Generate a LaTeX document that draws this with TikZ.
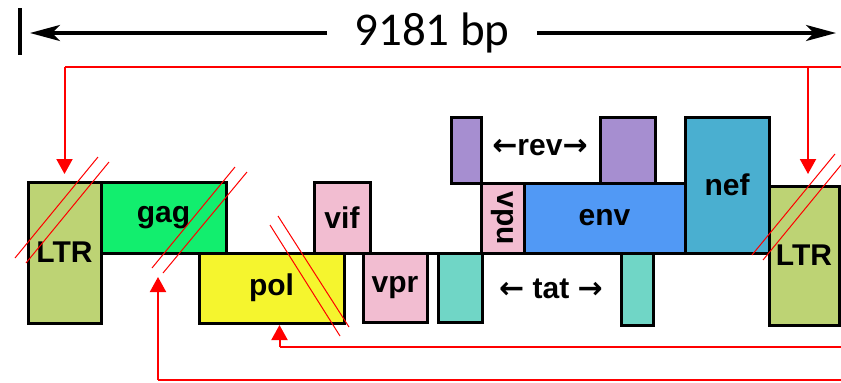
\documentclass[tikz,border=0pt]{standalone}
\usepackage{fontspec}
\setmainfont{Carlito}
\newfontfamily\genefont{Liberation Sans}
\newfontfamily\arrowfont{DejaVu Sans}
\usepackage{tikz}
\usetikzlibrary{calc,positioning,arrows.meta}
\definecolor{ltrGreen}{HTML}{BDD374}
\definecolor{gagGreen}{HTML}{12EE6E}
\definecolor{polYellow}{HTML}{F5F52E}
\definecolor{accPink}{HTML}{F2BDD1}
\definecolor{tatTeal}{HTML}{70D6C6}
\definecolor{revPurple}{HTML}{A68ED0}
\definecolor{envBlue}{HTML}{5199F5}
\definecolor{nefBlue}{HTML}{4AAFD0}
\definecolor{cutRed}{HTML}{FF0000}

\begin{document}
\begin{tikzpicture}[
    x=1pt, y=-1pt,
    gene/.style={rectangle, draw=black, line width=3pt, anchor=north west,
                 inner sep=0pt, outer sep=0pt,
                 font=\genefont\bfseries\fontsize{30}{30}\selectfont},
    lbl/.style={inner sep=0pt, font=\genefont\bfseries\fontsize{30}{30}\selectfont},
    dim/.style={line width=3.5pt, -{Stealth[length=30pt, width=16pt, inset=8pt]}},
    feedline/.style={cutRed, line width=1.2pt},
    feed/.style={cutRed, line width=2pt, -{Triangle[length=15pt, width=16pt]}},
    cut/.style={cutRed, line width=1pt},
]
    \useasboundingbox (0,0) rectangle (841,383);

    % genome length
    \node[font=\fontsize{47}{47}\selectfont, inner xsep=27pt, inner ysep=0pt] (len) at (432,33) {9181 bp};
    \coordinate (lenL) at (30,33);
    \coordinate (lenR) at (836,33);
    \draw[line width=4.5pt] (20,8) -- (20,55);
    \draw[dim] (len) -- (lenL);
    \draw[dim] (len) -- (lenR);

    % genes
    \node[gene, fill=ltrGreen, minimum width=73pt, minimum height=141pt] (ltrL) at (28,182) {LTR};
    \node[gene, fill=gagGreen, minimum width=125pt, minimum height=71pt, right=0pt of ltrL.north east, anchor=north west] (gag) {gag};
    \node[gene, fill=polYellow, minimum width=145pt, minimum height=70pt] (pol) at (199,253) {pol};
    \node[gene, fill=accPink, minimum width=56pt, minimum height=71pt] (vif) at (314,182) {vif};
    \node[gene, fill=accPink, minimum width=64pt, minimum height=69pt] (vpr) at (363,253) {vpr};
    \node[gene, fill=tatTeal, minimum width=44pt, minimum height=69pt] (tatA) at (438,253) {};
    \node[gene, fill=accPink, minimum width=43pt, minimum height=70pt] (vpu) at (481,183) {};
    \node[rotate=-90, lbl] (vpuLbl) at (vpu.center) {vpu};
    \node[gene, fill=envBlue, minimum width=161pt, minimum height=70pt, right=0pt of vpu.north east, anchor=north west] (env) {env};
    \node[gene, fill=revPurple, minimum width=30pt, minimum height=66pt] (revA) at (451,117) {};
    \node[gene, fill=revPurple, minimum width=55pt, minimum height=66pt] (revB) at (600,117) {};
    \node[gene, fill=nefBlue, minimum width=84pt, minimum height=136pt, right=0pt of env.south east, anchor=south west] (nef) {nef};
    \node[gene, fill=tatTeal, minimum width=32pt, minimum height=72pt] (tatB) at (621,253) {};
    \node[gene, fill=ltrGreen, minimum width=70pt, minimum height=139pt] (ltrR) at (769,186) {LTR};
    \draw[line width=3pt] (ltrL.east |- gag.south) -- (ltrR.west |- gag.south);

    \node[lbl] (revLbl) at (540,148) {{\arrowfont ←}rev{\arrowfont →}};
    \node[lbl] (tatLbl) at (551,289) {{\arrowfont ←} tat {\arrowfont →}};

    % breaks
    \draw[cut] (15,258) -- (98,157);
    \draw[cut] (26,263) -- (109,162);
    \draw[cut] (152,268) -- (235,167);
    \draw[cut] (163,273) -- (247,172);
    \draw[cut] (270,225) -- (340,336);
    \draw[cut] (278,216) -- (349,327);
    \draw[cut] (752,255) -- (835,154);
    \draw[cut] (763,260) -- (841,165);

    % red links
    \coordinate (ltrFeed) at (841,67);
    \coordinate (polFeed) at (841,347);
    \coordinate (gagFeed) at (841,380);
    \coordinate (gagCut) at (158,277);
    \coordinate (ltrRIn) at ([xshift=4pt]ltrR.north);
    \coordinate (polIn) at ([xshift=8pt]pol.south);
    \draw[feedline] (ltrFeed) -- (ltrFeed -| ltrL.north);
    \draw[feed, shorten >=8pt] (ltrFeed -| ltrL.north) -- (ltrL.north);
    \draw[feed, shorten >=12pt] (ltrFeed -| ltrRIn) -- (ltrRIn);
    \draw[feedline] (polFeed) -- (polFeed -| polIn);
    \draw[feed, shorten >=2pt] (polFeed -| polIn) -- (polIn);
    \draw[feedline] (gagFeed) -- (gagFeed -| gagCut);
    \draw[feed] (gagFeed -| gagCut) -- (gagCut);
\end{tikzpicture}
\end{document}
